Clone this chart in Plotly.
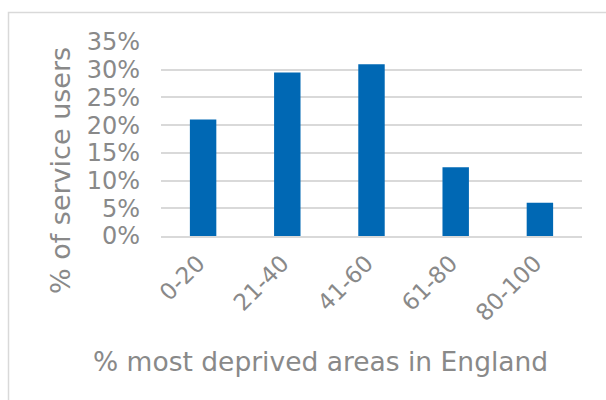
import plotly.graph_objects as go

categories = ["0-20", "21-40", "41-60", "61-80", "80-100"]
share_of_users = [0.21, 0.295, 0.31, 0.124, 0.06]
y_ticks = [0, 0.05, 0.10, 0.15, 0.20, 0.25, 0.30, 0.35]
y_tick_labels = ["0%", "5%", "10%", "15%", "20%", "25%", "30%", "35%"]

W, H = 606, 400
L, R, T, B = 161, 24, 42, 164
pw, ph = W - L - R, H - T - B

grey = "#898989"
font = "DejaVu Sans"


def px_x(p):
    return (p - L) / pw


def px_y(p):
    return (H - B - p) / ph


fig = go.Figure(
    go.Bar(
        x=categories,
        y=share_of_users,
        marker=dict(color="#0068b4", line=dict(width=0)),
    )
)

fig.update_layout(
    width=W,
    height=H,
    margin=dict(l=L, r=R, t=T, b=B),
    paper_bgcolor="white",
    plot_bgcolor="white",
    bargap=0.686,
    showlegend=False,
    font=dict(family=font, color=grey),
    xaxis=dict(
        tickangle=-45,
        tickfont=dict(size=23, color=grey),
        showgrid=False,
        showline=True,
        linecolor="#d9d9d9",
        linewidth=1.5,
        ticks="",
        ticklabelstandoff=3,
        ticklabelshift=-5,
    ),
    yaxis=dict(
        range=[0, 0.35],
        tickvals=y_ticks,
        ticktext=y_tick_labels,
        tickfont=dict(size=24, color=grey),
        showgrid=True,
        gridcolor="#d9d9d9",
        gridwidth=1.5,
        zeroline=False,
        ticks="",
        ticklabelstandoff=20,
    ),
    annotations=[
        dict(
            text="% of service users",
            xref="paper", yref="paper",
            x=px_x(60), y=px_y(171),
            xanchor="center", yanchor="middle",
            textangle=-90, showarrow=False,
            font=dict(size=27, color=grey, family=font),
        ),
        dict(
            text="% most deprived areas in England",
            xref="paper", yref="paper",
            x=px_x(320.5), y=px_y(361),
            xanchor="center", yanchor="middle",
            showarrow=False,
            font=dict(size=26.5, color=grey, family=font),
        ),
    ],
    shapes=[
        dict(
            type="rect",
            xref="paper", yref="paper",
            x0=px_x(8.5), x1=px_x(620),
            y0=px_y(12.5), y1=px_y(420),
            line=dict(color="#d9d9d9", width=1.5),
            fillcolor="rgba(0,0,0,0)",
            layer="below",
        )
    ],
)

fig.write_html("out.html")
